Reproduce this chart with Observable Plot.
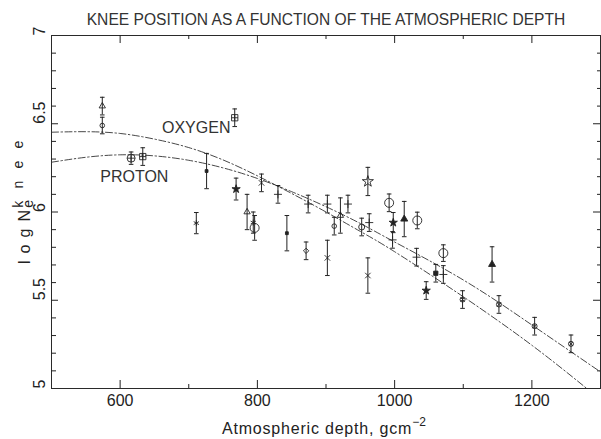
<!DOCTYPE html>
<html><head><meta charset="utf-8">
<script src="https://cdn.jsdelivr.net/npm/d3@7"></script>
<script src="https://cdn.jsdelivr.net/npm/@observablehq/plot@0.6"></script>
<style>
html,body{margin:0;padding:0;background:#fff;}
#chart svg{display:block;}
</style></head><body><div id="chart"></div>
<script>
// ---- data ----
const depth = [574, 574, 616, 633, 767, 726, 769, 806, 830, 711, 785, 794, 796, 843, 871, 874, 902, 902, 912, 921, 932, 952, 961, 963, 961, 992, 998, 997, 1014, 1033, 1032, 1071, 1060, 1071, 1046, 1099, 1142, 1152, 1204, 1257];
const logN  = [6.60, 6.49, 6.305, 6.314, 6.534, 6.232, 6.13, 6.165, 6.10, 5.937, 6.0, 5.94, 5.91, 5.88, 5.78, 6.045, 5.74, 6.045, 5.92, 5.98, 6.045, 5.915, 6.173, 5.94, 5.64, 6.052, 5.94, 5.842, 5.96, 5.952, 5.744, 5.767, 5.653, 5.646, 5.555, 5.504, 5.703, 5.476, 5.353, 5.253];
const errN  = [0.05, 0.047, 0.035, 0.05, 0.05, 0.1, 0.062, 0.05, 0.05, 0.06, 0.1, 0.06, 0.07, 0.1, 0.05, 0.05, 0.1, 0.05, 0.05, 0.1, 0.05, 0.05, 0.08, 0.05, 0.1, 0.05, 0.057, 0.047, 0.1, 0.047, 0.05, 0.047, 0.05, 0.05, 0.05, 0.05, 0.1, 0.05, 0.05, 0.05];
const marker = ["triangle", "circle", "circlePlus", "squarePlus", "squarePlus", "dot", "starFilled", "times", "plus", "asterisk", "triangle", "asterisk", "bigCircle", "dot", "diamond", "plus", "times", "plus", "circle", "triangle", "plus", "midCircle", "star", "plus", "times", "bigCircle", "starFilled", "plus", "triangleFilled", "bigCircle", "plus", "bigCircle", "squareFilled", "plus", "starFilled", "circleTimes", "triangleFilled", "circleTimes", "circleTimes", "circleTimes"];

const oxygenDepth = [500, 550, 600, 650, 700, 750, 800, 850, 900, 950, 1000, 1100, 1200, 1280];
const oxygenLogN  = [6.452, 6.455, 6.445, 6.413, 6.365, 6.295, 6.205, 6.105, 6.0, 5.89, 5.775, 5.52, 5.245, 5.0];
const protonDepth = [500, 550, 600, 650, 700, 750, 800, 850, 900, 950, 1000, 1100, 1200, 1300];
const protonLogN  = [6.282, 6.31, 6.324, 6.318, 6.293, 6.25, 6.19, 6.115, 6.03, 5.935, 5.83, 5.615, 5.36, 5.094];

const curveLabels = ["OXYGEN", "PROTON"];
const curveLabelDepth = [661, 571];
const curveLabelLogN = [6.479, 6.198];

const xMajorTicks = [600, 800, 1000, 1200];
const xMinorTicks = [700, 900, 1100];
const xTickLabels = ["600", "800", "1000", "1200"];
const yMajorTicks = [5.5, 6, 6.5];
const yMinorTicks = [5.1, 5.2, 5.3, 5.4, 5.6, 5.7, 5.8, 5.9, 6.1, 6.2, 6.3, 6.4, 6.6, 6.7, 6.8, 6.9];
const yTickValues = [5, 5.5, 6, 6.5, 7];
const yTickLabels = ["5", "5.5", "6", "6.5", "7"];

const title = "KNEE POSITION AS A FUNCTION OF THE ATMOSPHERIC DEPTH";

// ---- layout ----
const W = 601, H = 439, mL = 51, mR = 1, mT = 35, mB = 51;
const PW = W - mL - mR, PH = H - mT - mB;
const INK = "#222";
const FONT = "'Liberation Sans', Arial, Helvetica, sans-serif";

const pts = depth.map((x, i) => ({x, y: logN[i], e: errN[i], m: marker[i]}));
const sel = m => pts.filter(d => d.m === m);
const oxygen = oxygenDepth.map((x, i) => ({x, y: oxygenLogN[i]}));
const proton = protonDepth.map((x, i) => ({x, y: protonLogN[i]}));
const labelsData = curveLabels.map((t, i) => ({t, x: curveLabelDepth[i], y: curveLabelLogN[i]}));
const xLab = xMajorTicks.map((v, i) => ({v, t: xTickLabels[i]}));
const yLab = yTickValues.map((v, i) => ({v, t: yTickLabels[i]}));

const capSymbol = {draw(ctx) { ctx.moveTo(-2.3, 0); ctx.lineTo(2.3, 0); }};
const S = {x: "x", y: "y", stroke: INK, strokeWidth: 0.9};
const dash = "7,2.5,1.5,2.5";

const chart = Plot.plot({
  width: W, height: H,
  marginLeft: mL, marginRight: mR, marginTop: mT, marginBottom: mB,
  x: {domain: [500, 1300], axis: null},
  y: {domain: [5, 7], axis: null},
  style: {fontFamily: FONT, fontSize: "16px", color: INK, background: "#fff"},
  marks: [
    Plot.frame({stroke: "#2a2a2a", strokeWidth: 1}),
    // ticks (inward)
    Plot.tickX(xMajorTicks, {x: d => d, insetTop: PH - 8, stroke: INK}),
    Plot.tickX(xMajorTicks, {x: d => d, insetBottom: PH - 8, stroke: INK}),
    Plot.tickX(xMinorTicks, {x: d => d, insetTop: PH - 4, stroke: INK}),
    Plot.tickX(xMinorTicks, {x: d => d, insetBottom: PH - 4, stroke: INK}),
    Plot.tickY(yMajorTicks, {y: d => d, insetRight: PW - 7, stroke: INK}),
    Plot.tickY(yMajorTicks, {y: d => d, insetLeft: PW - 7, stroke: INK}),
    Plot.tickY(yMinorTicks, {y: d => d, insetRight: PW - 5, stroke: INK}),
    Plot.tickY(yMinorTicks, {y: d => d, insetLeft: PW - 3, stroke: INK}),
    // tick labels
    Plot.text(xLab, {x: "v", text: "t", frameAnchor: "bottom", dy: 17, fill: INK, fontSize: 16}),
    Plot.text(yLab, {y: "v", text: "t", frameAnchor: "left", dx: -12, rotate: -90, fill: INK, fontSize: 16}),
    // title
    Plot.text([title], {text: d => d, frameAnchor: "top", dy: -22, fill: "#333", fontSize: 15.6}),
    // model curves
    Plot.line(oxygen, {x: "x", y: "y", curve: "natural", stroke: "#333", strokeWidth: 0.9, strokeDasharray: dash, clip: true}),
    Plot.line(proton, {x: "x", y: "y", curve: "natural", stroke: "#333", strokeWidth: 0.9, strokeDasharray: dash, clip: true}),
    Plot.text(labelsData, {x: "x", y: "y", text: "t", textAnchor: "start", fill: "#333", fontSize: 16}),
    // error bars
    Plot.ruleX(pts, {x: "x", y1: d => d.y - d.e, y2: d => d.y + d.e, stroke: INK, strokeWidth: 1}),
    Plot.dot(pts, {x: "x", y: d => d.y + d.e, symbol: capSymbol, stroke: INK, strokeWidth: 1, fill: "none"}),
    Plot.dot(pts, {x: "x", y: d => d.y - d.e, symbol: capSymbol, stroke: INK, strokeWidth: 1, fill: "none"}),
    // markers
    Plot.dot(sel("triangle"), {...S, symbol: "triangle2", r: 3, fill: "none"}),
    Plot.dot(sel("triangleFilled"), {...S, symbol: "triangle", r: 2.6, fill: INK}),
    Plot.dot(sel("circle"), {...S, symbol: "circle", r: 2.3, fill: "none"}),
    Plot.dot(sel("midCircle"), {...S, symbol: "circle", r: 3, fill: "none"}),
    Plot.dot(sel("bigCircle"), {...S, symbol: "circle", r: 4.5, fill: "none"}),
    Plot.dot(sel("circlePlus"), {...S, symbol: "circle", r: 4, fill: "none"}),
    Plot.dot(sel("circlePlus"), {...S, symbol: "plus", r: 2.7, fill: "none"}),
    Plot.dot(sel("squarePlus"), {...S, symbol: "square2", r: 4, fill: "none"}),
    Plot.dot(sel("squarePlus"), {...S, symbol: "plus", r: 2.2, fill: "none"}),
    Plot.dot(sel("dot"), {...S, symbol: "square", r: 1.6, fill: INK}),
    Plot.dot(sel("squareFilled"), {...S, symbol: "square", r: 2.4, fill: INK}),
    Plot.dot(sel("starFilled"), {...S, symbol: "star", r: 2.6, fill: INK}),
    Plot.dot(sel("star"), {...S, symbol: "star", r: 3.5, fill: "none"}),
    Plot.dot(sel("times"), {...S, symbol: "times", r: 2.6, fill: "none"}),
    Plot.dot(sel("asterisk"), {...S, symbol: "asterisk", r: 2.8, fill: "none"}),
    Plot.dot(sel("plus"), {...S, symbol: "plus", r: 2.7, fill: "none"}),
    Plot.dot(sel("diamond"), {...S, symbol: "diamond2", r: 2.4, fill: "none"}),
    Plot.dot(sel("circleTimes"), {...S, symbol: "circle", r: 2.5, fill: "none"}),
    Plot.dot(sel("circleTimes"), {...S, symbol: "times", r: 2, fill: "none"})
  ]
});

// axis titles with sub/superscripts (real text)
const svg = d3.select(chart);
const yl = svg.append("text")
  .attr("transform", "translate(30,264) rotate(-90)")
  .attr("text-anchor", "start")
  .attr("fill", INK).attr("font-family", FONT).attr("font-size", 16);
yl.append("tspan").attr("letter-spacing", 1.3).text("l o g N");
yl.append("tspan").attr("font-size", 14).attr("dx", 1).attr("dy", 3).text("e");
yl.append("tspan").attr("font-size", 14).attr("letter-spacing", 4.2).attr("dx", -8).attr("dy", -10).text("k n e e");

const xl = svg.append("text")
  .attr("x", 222).attr("y", 434)
  .attr("text-anchor", "start")
  .attr("fill", INK).attr("font-family", FONT).attr("font-size", 16);
xl.append("tspan").attr("letter-spacing", 0.8).text("Atmospheric depth, gcm");
xl.append("tspan").attr("font-size", 12).attr("dy", -8).text("\u22122");

document.getElementById("chart").appendChild(chart);
</script>
</body></html>
